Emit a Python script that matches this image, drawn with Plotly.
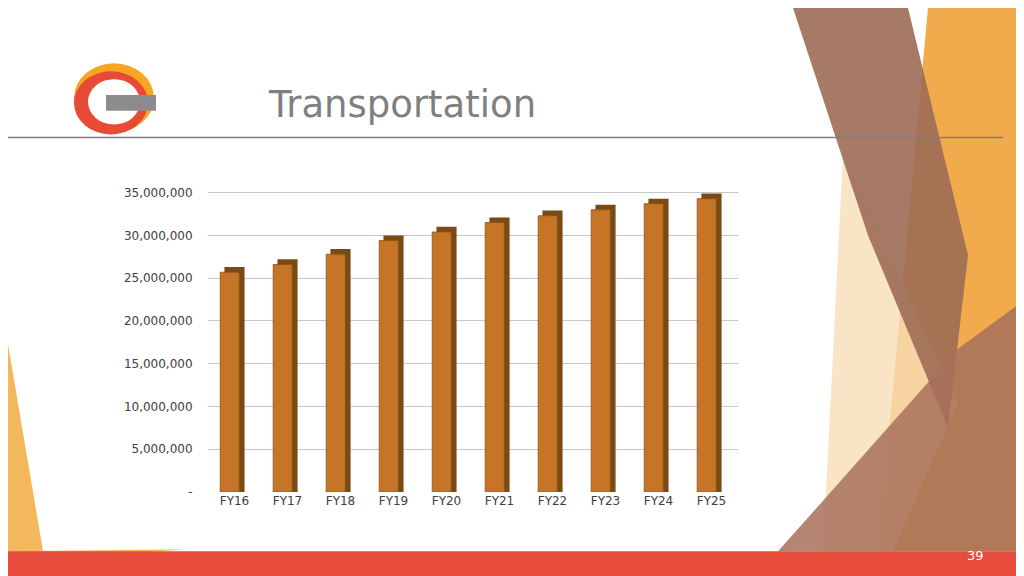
import plotly.graph_objects as go

categories = ["FY16","FY17","FY18","FY19","FY20","FY21","FY22","FY23","FY24","FY25"]
values = [25700000, 26600000, 27800000, 29400000, 30400000, 31500000, 32300000, 33000000, 33700000, 34300000]
tick_vals = [0, 5000000, 10000000, 15000000, 20000000, 25000000, 30000000, 35000000]
tick_text = ["-", "5,000,000", "10,000,000", "15,000,000", "20,000,000", "25,000,000", "30,000,000", "35,000,000"]

W, H = 1024, 576
def P(pts):
    return "M " + " L ".join(f"{x/W:.4f},{1-y/H:.4f}" for x, y in pts) + " Z"

depth = 600000
fig = go.Figure()
fig.add_bar(x=categories, y=[v + depth for v in values], width=0.38, offset=-0.19,
            marker=dict(color="#7A4A14", line=dict(width=0)), hoverinfo="skip")
fig.add_bar(x=categories, y=values, width=0.36, offset=-0.27,
            marker=dict(color="#C57525", line=dict(color="#8A5418", width=0.8)))

shapes = []
def poly(pts, color, op=1.0):
    shapes.append(dict(type="path", xref="paper", yref="paper", path=P(pts),
                       fillcolor=color, opacity=op, line=dict(width=0), layer="below"))
poly([(920,0),(1024,0),(1024,550),(870,550)], "#EFA23A", 0.9)
poly([(835,150),(950,400),(885,550),(815,550)], "#F9DDB8", 0.8)
poly([(785,0),(900,0),(960,250),(940,425),(860,230)], "#9C6B55", 0.9)
poly([(770,550),(950,345),(1024,290),(1024,550)], "#A7705A", 0.85)
poly([(0,340),(35,550),(0,550)], "#F2B04A", 0.9)
poly([(0,550),(180,548),(0,560)], "#F2B04A", 0.9)
shapes.append(dict(type="rect", xref="paper", yref="paper", x0=0, x1=1, y0=0, y1=1-550/H,
                   fillcolor="#E64B3C", line=dict(width=0)))
shapes.append(dict(type="line", xref="paper", yref="paper", x0=0, x1=995/W, y0=1-131/H, y1=1-131/H,
                   line=dict(color="#808080", width=1.5)))
shapes.append(dict(type="circle", xref="paper", yref="paper", x0=66/W, x1=146/W, y0=1-126/H, y1=1-56/H,
                   fillcolor="#F5A623", line=dict(width=0)))
shapes.append(dict(type="circle", xref="paper", yref="paper", x0=66/W, x1=140/W, y0=1-128/H, y1=1-64/H,
                   fillcolor="#E84B35", line=dict(width=0)))
shapes.append(dict(type="circle", xref="paper", yref="paper", x0=80/W, x1=132/W, y0=1-118/H, y1=1-72/H,
                   fillcolor="white", line=dict(width=0)))
shapes.append(dict(type="rect", xref="paper", yref="paper", x0=98/W, x1=148/W, y0=1-104/H, y1=1-88/H,
                   fillcolor="#8C8C8C", line=dict(width=0)))

fig.update_layout(
    width=W, height=H, paper_bgcolor="white", plot_bgcolor="rgba(0,0,0,0)",
    barmode="overlay", showlegend=False,
    margin=dict(l=0, r=0, t=0, b=0), shapes=shapes,
    xaxis=dict(domain=[200/W, 730/W], showgrid=False, showline=False, ticks="",
               tickfont=dict(family="DejaVu Sans", size=12, color="#404040")),
    yaxis=dict(domain=[1-490/H, 1-180/H], range=[0, 35800000], tickvals=tick_vals, ticktext=tick_text,
               showgrid=True, gridcolor="#C8C8C8", gridwidth=1, zeroline=False, ticks="outside",
               ticklen=12, tickcolor="rgba(0,0,0,0)",
               tickfont=dict(family="DejaVu Sans", size=12, color="#404040")),
    annotations=[
        dict(text="Transportation", x=258/W, y=1-98/H, xref="paper", yref="paper", showarrow=False,
             xanchor="left", yanchor="middle", font=dict(family="DejaVu Sans", size=37, color="#7F7F7F")),
        dict(text="39", x=978/W, y=1-564/H, xref="paper", yref="paper", showarrow=False,
             font=dict(family="DejaVu Sans", size=13, color="white")),
    ],
)
fig.write_html("out.html")
